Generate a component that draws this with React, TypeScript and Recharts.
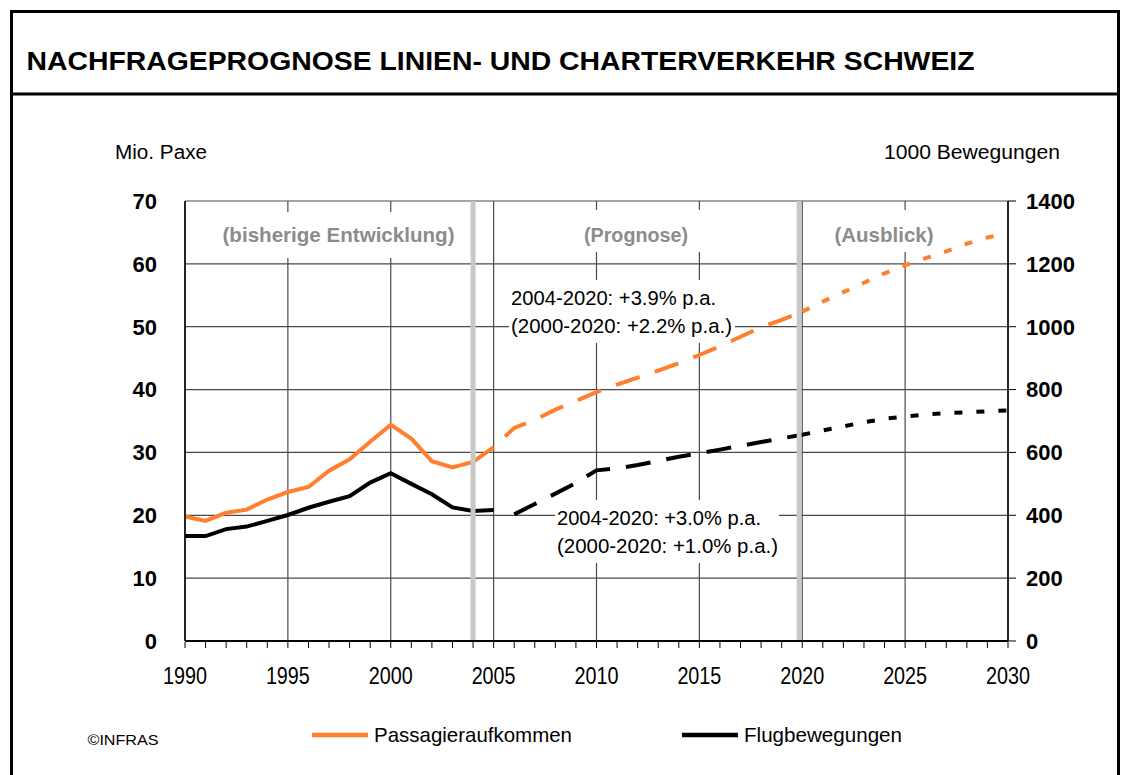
import React from 'react';
import { LineChart, Line, XAxis, YAxis, CartesianGrid, ReferenceLine, Customized } from 'recharts';

const FONT = '"Liberation Sans", Arial, Helvetica, sans-serif';
const ORANGE = '#FF7F2E';
const BLACK = '#000000';
const BAND = '#C8C8C8';
const LABEL_GREY = '#8C8C8C';

// Passagieraufkommen, Mio. Paxe (left axis)
const paxHistYears = [1990, 1991, 1992, 1993, 1994, 1995, 1996, 1997, 1998, 1999, 2000, 2001, 2002, 2003, 2004];
const paxHist = [19.8, 19.1, 20.4, 20.9, 22.5, 23.7, 24.5, 27.1, 28.9, 31.7, 34.4, 32.2, 28.6, 27.6, 28.5];
const paxProgYears = [2004, 2005, 2006, 2007, 2008, 2009, 2010, 2011, 2012, 2013, 2014, 2015, 2016, 2017, 2018, 2019, 2020];
const paxProg = [28.5, 30.8, 33.9, 35.2, 36.8, 38.2, 39.6, 40.8, 41.9, 43.0, 44.2, 45.5, 46.9, 48.4, 49.9, 51.1, 52.4];
const paxOutYears = [2020, 2021, 2022, 2023, 2024, 2025, 2026, 2027, 2028, 2029, 2030];
const paxOut = [52.4, 54.0, 55.5, 57.0, 58.5, 59.8, 60.9, 62.0, 63.2, 64.2, 64.9];

// Flugbewegungen, 1000 Bewegungen (right axis)
const movHistYears = [1990, 1991, 1992, 1993, 1994, 1995, 1996, 1997, 1998, 1999, 2000, 2001, 2002, 2003, 2004, 2005];
const movHist = [334, 334, 356, 364, 382, 401, 424, 443, 461, 504, 534, 500, 467, 425, 414, 417];
const movProgYears = [2006, 2007, 2008, 2009, 2010, 2011, 2012, 2013, 2014, 2015, 2016, 2017, 2018, 2019, 2020];
const movProg = [403, 436, 469, 503, 543, 549, 560, 573, 586, 597, 609, 621, 633, 645, 656];
const movOutYears = [2020, 2021, 2022, 2023, 2024, 2025, 2026, 2027, 2028, 2029, 2030];
const movOut = [656, 670, 683, 696, 707, 714, 721, 725, 728, 731, 734];

const xTicks = [1990, 1995, 2000, 2005, 2010, 2015, 2020, 2025, 2030];
const paxTicks = [0, 10, 20, 30, 40, 50, 60, 70];
const movTicks = [0, 200, 400, 600, 800, 1000, 1200, 1400];
const minorTicks = Array.from({ length: 41 }, (_, i) => 1990 + i);

const DASHED = '25 16';
const DOTTED = '8 14';

const SERIES = [
  { key: 'paxHist', years: paxHistYears, values: paxHist, axis: 'left', color: ORANGE, dash: undefined },
  { key: 'paxProg', years: paxProgYears, values: paxProg, axis: 'left', color: ORANGE, dash: DASHED },
  { key: 'paxOut', years: paxOutYears, values: paxOut, axis: 'left', color: ORANGE, dash: DOTTED },
  { key: 'movHist', years: movHistYears, values: movHist, axis: 'right', color: BLACK, dash: undefined },
  { key: 'movProg', years: movProgYears, values: movProg, axis: 'right', color: BLACK, dash: DASHED },
  { key: 'movOut', years: movOutYears, values: movOut, axis: 'right', color: BLACK, dash: DOTTED },
];

const data = minorTicks.map((year) => {
  const row: Record<string, number | null> = { year };
  SERIES.forEach((s) => {
    const i = s.years.indexOf(year);
    row[s.key] = i >= 0 ? s.values[i] : null;
  });
  return row;
});

const legendItems = [
  { name: 'Passagieraufkommen', color: ORANGE, x: 312, len: 198 },
  { name: 'Flugbewegungen', color: BLACK, x: 682, len: 158 },
];

// white backing boxes that hide the grid under the labels
const boxes = [
  { x: 214, y: 212, w: 249, h: 46 },
  { x: 575, y: 210, w: 132, h: 42 },
  { x: 826, y: 210, w: 115, h: 42 },
  { x: 509, y: 280, w: 226, h: 63 },
  { x: 555, y: 500, w: 224, h: 63 },
];

const sectionLabels = [
  { text: '(bisherige Entwicklung)', cx: 338.5, len: 232 },
  { text: '(Prognose)', cx: 636, len: 104 },
  { text: '(Ausblick)', cx: 884, len: 99 },
];

const notes = [
  { text: '2004-2020: +3.9% p.a.', x: 511, y: 305, len: 205 },
  { text: '(2000-2020: +2.2% p.a.)', x: 511, y: 333, len: 221 },
  { text: '2004-2020: +3.0% p.a.', x: 557, y: 525, len: 204 },
  { text: '(2000-2020: +1.0% p.a.)', x: 557, y: 553, len: 221 },
];

const Boxes = () => (
  <g>
    {boxes.map((b, i) => (
      <rect key={i} x={b.x} y={b.y} width={b.w} height={b.h} fill="#fff" />
    ))}
    {sectionLabels.map((l) => (
      <text key={l.text} x={l.cx} y={242} textAnchor="middle" fontFamily={FONT} fontSize={21}
        fontWeight="bold" fill={LABEL_GREY} textLength={l.len} lengthAdjust="spacingAndGlyphs">
        {l.text}
      </text>
    ))}
    {notes.map((n) => (
      <text key={n.text + n.y} x={n.x} y={n.y} fontFamily={FONT} fontSize={20.5} fill="#000"
        textLength={n.len} lengthAdjust="spacingAndGlyphs">
        {n.text}
      </text>
    ))}
  </g>
);

const Frame = () => (
  <g fontFamily={FONT}>
    <rect x={11.5} y={11.5} width={1107} height={800} fill="none" stroke="#000" strokeWidth={3} />
    <line x1={10} x2={1120} y1={94} y2={94} stroke="#000" strokeWidth={3} />
    <text x={26.5} y={70} fontSize={25.6} fontWeight="bold" fill="#000" textLength={948} lengthAdjust="spacingAndGlyphs">
      NACHFRAGEPROGNOSE LINIEN- UND CHARTERVERKEHR SCHWEIZ
    </text>
    <text x={115} y={159} fontSize={20} fill="#000" textLength={92} lengthAdjust="spacingAndGlyphs">
      Mio. Paxe
    </text>
    <text x={1060} y={159} fontSize={20} fill="#000" textAnchor="end" textLength={176} lengthAdjust="spacingAndGlyphs">
      1000 Bewegungen
    </text>
    <text x={87.5} y={745} fontSize={15} fill="#000" textLength={71} lengthAdjust="spacingAndGlyphs">
      ©INFRAS
    </text>
    {legendItems.map((it) => (
      <g key={it.name}>
        <line x1={it.x} x2={it.x + 56} y1={735} y2={735} stroke={it.color} strokeWidth={4.5} />
        <text x={it.x + 62} y={742} fontSize={21} fill="#000" textLength={it.len} lengthAdjust="spacingAndGlyphs">
          {it.name}
        </text>
      </g>
    ))}
  </g>
);

const YearTick = ({ x, y, payload }: any) => (
  <text x={x} y={y + 43} textAnchor="middle" fontFamily={FONT} fontSize={23.5} fill="#000"
    textLength={44} lengthAdjust="spacingAndGlyphs">
    {payload.value}
  </text>
);

const axisTickStyle = { fontSize: 22, fontWeight: 700, fill: '#000', fontFamily: FONT };

export default function App() {
  return (
    <div style={{ position: 'absolute', left: 0, top: 0, width: 1125, height: 775, background: '#fff' }}>
      <LineChart width={1125} height={775} data={data} margin={{ top: 201, right: 57, bottom: 132, left: 125 }}>
        <Customized component={<Frame />} />
        <CartesianGrid xAxisId="main" yAxisId="left" stroke="#4a4a4a" strokeWidth={1.2} />
        <XAxis xAxisId="main" dataKey="year" type="number" domain={[1990, 2030]} ticks={xTicks}
          height={1} axisLine={{ stroke: '#000', strokeWidth: 2 }} tickLine={false} tickSize={0}
          tickMargin={0} tick={<YearTick />} interval={0} />
        <XAxis xAxisId="minor" dataKey="year" type="number" domain={[1990, 2030]} ticks={minorTicks}
          height={1} axisLine={false} tickSize={6} tickLine={{ stroke: '#000', strokeWidth: 1 }}
          tickFormatter={() => ''} interval={0} />
        <YAxis yAxisId="left" width={60} domain={[0, 70]} ticks={paxTicks} interval={0}
          axisLine={{ stroke: '#000', strokeWidth: 1.5 }} tickLine={false} tickSize={0} tickMargin={28}
          tick={axisTickStyle} />
        <YAxis yAxisId="right" orientation="right" width={60} domain={[0, 1400]} ticks={movTicks} interval={0}
          axisLine={{ stroke: '#000', strokeWidth: 1.5 }} tickLine={{ stroke: '#000', strokeWidth: 1 }}
          tickSize={8} tickMargin={10} tick={axisTickStyle} />
        <Customized component={<Boxes />} />
        {SERIES.map((s) => (
          <Line key={s.key} xAxisId="main" yAxisId={s.axis} dataKey={s.key} type="linear"
            stroke={s.color} strokeWidth={4} strokeDasharray={s.dash} dot={false} activeDot={false}
            isAnimationActive={false} connectNulls={false} />
        ))}
        <ReferenceLine xAxisId="main" yAxisId="left" x={2004} stroke={BAND} strokeWidth={5} />
        <ReferenceLine xAxisId="main" yAxisId="left" x={2019.85} stroke={BAND} strokeWidth={5} />
      </LineChart>
    </div>
  );
}
